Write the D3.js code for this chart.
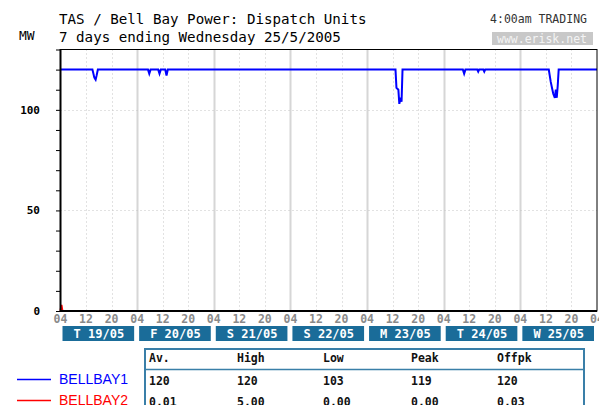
<!DOCTYPE html>
<html>
<head>
<meta charset="utf-8">
<script src="https://cdn.jsdelivr.net/npm/d3@7"></script>
<style>
  body { margin: 0; background: #fff; }
  svg { display: block; }
</style>
</head>
<body>
<div id="chart"></div>
<script>
// Bell Bay dispatch chart - 7 days from Thu 19/05 04:00
const dayLabels = ['T 19/05', 'F 20/05', 'S 21/05', 'S 22/05', 'M 23/05', 'T 24/05', 'W 25/05'];
const hourTicks = ['04', '12', '20'];
const yTicks = [0, 50, 100];

// hours since start, MW
const bb1Hours = [0, 10.0, 10.6, 11.0, 11.3, 11.7, 27.4, 27.8, 28.2, 30.6, 31.0, 31.4, 32.8, 33.2, 33.6,
  104.9, 105.2, 105.8, 106.1, 106.5, 106.8, 107.1, 126.0, 126.4, 126.8, 130.5, 130.8, 131.1, 132.4, 132.7, 133.0,
  152.9, 153.5, 153.9, 154.3, 154.8, 155.1, 155.4, 155.7, 156.0, 168];
const bb1Values = [120, 120, 116, 115, 117, 120, 120, 118, 120, 120, 118, 120, 120, 117, 120,
  120, 111, 110, 103, 106, 104, 120, 120, 118, 120, 120, 119, 120, 120, 119, 120,
  120, 114, 111, 108, 106, 110, 106, 112, 120, 120];
const bb2Hours = [0, 0.3, 0.6, 168];
const bb2Values = [0, 3, 0, 0];

const statHead = ['Av.', 'High', 'Low', 'Peak', 'Offpk'];
const statBB1 = ['120', '120', '103', '119', '120'];
const statBB2 = ['0.01', '5.00', '0.00', '0.00', '0.03'];

const W = 599, H = 405;
const mono = '"DejaVu Sans Mono", monospace';
const svg = d3.select('#chart').append('svg').attr('width', W).attr('height', H);

const x = d3.scaleLinear().domain([0, 168]).range([60.5, 597]);
const y = d3.scaleLinear().domain([0, 130]).range([311, 49.5]);

// titles
svg.append('text').attr('x', 59).attr('y', 24).attr('font-family', mono).attr('font-size', 14.2)
  .text('TAS / Bell Bay Power: Dispatch Units');
svg.append('text').attr('x', 59).attr('y', 42).attr('font-family', mono).attr('font-size', 14.2)
  .text('7 days ending Wednesday 25/5/2005');
svg.append('text').attr('x', 19).attr('y', 40).attr('font-family', mono).attr('font-size', 13)
  .text('MW');
svg.append('text').attr('x', 587).attr('y', 23).attr('text-anchor', 'end').attr('font-family', mono)
  .attr('font-size', 11.5).attr('fill', '#333').text('4:00am TRADING');
svg.append('rect').attr('x', 492).attr('y', 32).attr('width', 101).attr('height', 13).attr('fill', '#c8c8c8');
svg.append('text').attr('x', 542).attr('y', 42.5).attr('text-anchor', 'middle').attr('font-family', mono)
  .attr('font-size', 11.5).attr('fill', '#f4f4f4').text('www.erisk.net');

// grid
const g = svg.append('g');
d3.range(1, 7).forEach(d => {
  g.append('line').attr('x1', Math.round(x(d * 24)) + 0.5).attr('x2', Math.round(x(d * 24)) + 0.5)
    .attr('y1', y(130)).attr('y2', y(0)).attr('stroke', '#d6d6d6').attr('stroke-width', 2);
});
d3.range(0, 7).forEach(d => {
  [8, 16].forEach(o => {
    g.append('line').attr('x1', Math.round(x(d * 24 + o)) + 0.5).attr('x2', Math.round(x(d * 24 + o)) + 0.5)
      .attr('y1', y(130)).attr('y2', y(0)).attr('stroke', '#c4c4c4').attr('stroke-dasharray', '1,3');
  });
});
[50, 100].forEach(v => {
  g.append('line').attr('x1', x(0)).attr('x2', x(168)).attr('y1', Math.round(y(v)) + 0.5).attr('y2', Math.round(y(v)) + 0.5)
    .attr('stroke', '#c4c4c4').attr('stroke-dasharray', '1,3');
});

// series
const line = d3.line().x(d => x(d[0])).y(d => y(d[1]));
svg.append('path').datum(bb2Hours.map((h, i) => [h, bb2Values[i]]))
  .attr('d', line).attr('fill', 'none').attr('stroke', '#ff0000').attr('stroke-width', 2);
svg.append('path').datum(bb1Hours.map((h, i) => [h, bb1Values[i]]))
  .attr('d', line).attr('fill', 'none').attr('stroke', '#0000ff').attr('stroke-width', 2);

// frame
svg.append('rect').attr('x', 60.5).attr('y', 49.5).attr('width', 536.5).attr('height', 261.5)
  .attr('fill', 'none').attr('stroke', '#000').attr('stroke-width', 1);
svg.append('line').attr('x1', 60).attr('x2', 597).attr('y1', 311).attr('y2', 311).attr('stroke', '#000').attr('stroke-width', 2);
svg.append('line').attr('x1', 60.5).attr('x2', 60.5).attr('y1', 49).attr('y2', 312).attr('stroke', '#000').attr('stroke-width', 2);

// y axis
const yAxis = d3.axisLeft(y).tickValues(d3.range(0, 131, 10)).tickSize(4).tickFormat(v => yTicks.includes(v) ? v : '');
const ya = svg.append('g').attr('transform', 'translate(60,0)').call(yAxis);
ya.select('.domain').remove();
ya.selectAll('text').attr('x', -20).attr('font-family', mono).attr('font-size', 11).attr('font-weight', 'bold').attr('fill', '#000');
ya.selectAll('line').attr('stroke', '#000');

// x axis hour labels
const tickHours = d3.range(0, 169, 8);
svg.append('g').selectAll('text').data(tickHours).join('text')
  .attr('x', d => x(d)).attr('y', 323).attr('text-anchor', 'middle')
  .attr('font-family', mono).attr('font-size', 11.5).attr('font-weight', 'bold').attr('fill', '#8a8a8a')
  .text((d, i) => hourTicks[i % 3]);

// day boxes
const days = svg.append('g').selectAll('g').data(dayLabels).join('g');
days.append('rect').attr('x', (d, i) => x(i * 24) + 2).attr('y', 326)
  .attr('width', (d, i) => x((i + 1) * 24) - x(i * 24) - 5).attr('height', 15).attr('fill', '#1a6c99');
days.append('text').attr('x', (d, i) => x(i * 24 + 12)).attr('y', 338).attr('text-anchor', 'middle')
  .attr('font-family', mono).attr('font-size', 12).attr('font-weight', 'bold').attr('fill', '#fff').text(d => d);

// legend
const legend = [['BELLBAY1', '#0000ff', 379], ['BELLBAY2', '#ff0000', 400]];
legend.forEach(([name, col, ly]) => {
  svg.append('line').attr('x1', 17).attr('x2', 51).attr('y1', ly + 0.5).attr('y2', ly + 0.5).attr('stroke', col).attr('stroke-width', 1.5);
  svg.append('text').attr('x', 59).attr('y', ly + 5).attr('font-family', '"Liberation Sans", Arial, sans-serif')
    .attr('font-size', 14).attr('fill', col).text(name);
});

// stats table
svg.append('rect').attr('x', 145).attr('y', 349).attr('width', 439).attr('height', 70)
  .attr('fill', 'none').attr('stroke', '#3a7fa8').attr('stroke-width', 2);
svg.append('line').attr('x1', 146).attr('x2', 583).attr('y1', 369.5).attr('y2', 369.5).attr('stroke', '#3a7fa8').attr('stroke-width', 1.5);
const colX = [149, 237, 323, 411, 497];
[[statHead, 362], [statBB1, 385], [statBB2, 406]].forEach(([row, ry]) => {
  svg.append('g').selectAll('text').data(row).join('text')
    .attr('x', (d, i) => colX[i]).attr('y', ry).attr('font-family', mono).attr('font-size', 11.5)
    .attr('font-weight', 'bold').attr('fill', '#111').text(d => d);
});
</script>
</body>
</html>
